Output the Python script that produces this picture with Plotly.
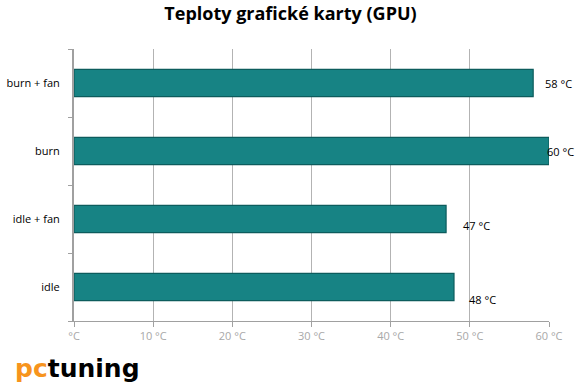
import plotly.graph_objects as go

categories = ["idle", "idle + fan", "burn", "burn + fan"]
values = [48, 47, 60, 58]
value_labels = ["48 °C", "47 °C", "60 °C", "58 °C"]
tick_vals = [0, 10, 20, 30, 40, 50, 60]
tick_text = ["°C", "10 °C", "20 °C", "30 °C", "40 °C", "50 °C", "60 °C"]
label_xshift = [13, 15, -4, 10]
label_yshift = [-12, -6, 0, 0]

FONT = "Open Sans, Liberation Sans, sans-serif"

fig = go.Figure()
fig.add_trace(go.Bar(
    y=categories, x=values, orientation="h",
    marker=dict(color="#178384", line=dict(color="#0c5c5d", width=1.2)),
    width=0.4, hoverinfo="skip", cliponaxis=False,
))

for c, v, t, xs, ys in zip(categories, values, value_labels, label_xshift, label_yshift):
    fig.add_annotation(x=v, y=c, text=t, showarrow=False, xanchor="left",
                       xshift=xs, yshift=ys,
                       font=dict(family=FONT, size=11, color="#000000"))

fig.add_annotation(xref="paper", yref="paper", x=-0.128, y=-0.115, xanchor="left", yanchor="top",
                   text="<b><span style='color:#f7941d'>pc</span><span style='color:#000000'>tuning</span></b>",
                   showarrow=False,
                   font=dict(family="DejaVu Sans, sans-serif", size=25, color="#000000"))

fig.update_layout(
    width=581, height=389,
    margin=dict(l=74, r=32, t=49, b=68, autoexpand=False),
    paper_bgcolor="white", plot_bgcolor="white",
    title=dict(text="<b>Teploty grafické karty (GPU)</b>", x=0.5, xanchor="center", y=0.98, yanchor="top",
               font=dict(family=FONT, size=18, color="#000000")),
    showlegend=False,
    xaxis=dict(range=[0, 60], tickvals=tick_vals, ticktext=tick_text, automargin=False,
               showgrid=True, gridcolor="#b3b3b3", gridwidth=1,
               showline=True, linecolor="#a0a0a0", linewidth=1,
               ticks="outside", ticklen=5, tickcolor="#a0a0a0",
               tickfont=dict(family=FONT, size=11, color="#a8a8a8"),
               zeroline=False, fixedrange=True),
    yaxis=dict(showline=True, linecolor="#a0a0a0", linewidth=2, automargin=False,
               ticks="outside", tickson="boundaries", ticklen=4, tickcolor="#a0a0a0",
               tickfont=dict(family=FONT, size=11, color="#000000"),
               ticklabelstandoff=10, showgrid=False, fixedrange=True),
)

fig.write_html("out.html", config={"displayModeBar": False},
               post_script="document.body.style.margin='0';document.body.style.overflow='hidden';")
